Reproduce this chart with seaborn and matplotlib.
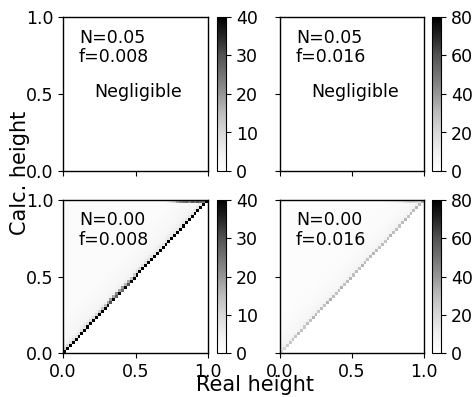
import numpy as np
import matplotlib
matplotlib.use("Agg")
import matplotlib.pyplot as plt
import seaborn as sns

N_BINS = 50

# Panel annotations (row-major: top-left, top-right, bottom-left, bottom-right)
panel_n = ["0.05", "0.05", "0.00", "0.00"]
panel_f = ["0.008", "0.016", "0.008", "0.016"]
panel_vmax = [40, 80, 40, 80]
colorbar_ticks = [[0, 10, 20, 30, 40], [0, 20, 40, 60, 80],
                  [0, 10, 20, 30, 40], [0, 20, 40, 60, 80]]
axis_ticks = [0.0, 0.5, 1.0]
axis_ticklabels = ["0.0", "0.5", "1.0"]

# Counts on the diagonal (real bin == calc bin), f=0.008
diag_left = [40, 45, 48, 50, 50, 48, 50, 52, 50, 48,
             50, 48, 45, 50, 42, 38, 30, 45, 28, 40,
             26, 42, 30, 38, 45, 40, 48, 50, 45, 50,
             50, 52, 48, 50, 50, 48, 50, 52, 50, 48,
             50, 48, 50, 52, 50, 48, 50, 50, 48, 60]
# Counts one bin above the diagonal, f=0.008
above_left = [10, 10, 9, 9, 8, 8, 8, 8, 8, 9,
              9, 10, 12, 14, 15, 18, 20, 18, 22, 18,
              20, 16, 18, 14, 12, 10, 9, 8, 8, 8,
              8, 7, 7, 7, 7, 7, 7, 7, 7, 7,
              7, 7, 7, 7, 7, 7, 7, 7, 7, 0]
# Background level by distance above the diagonal (2, 3, 4, ... bins)
band_left = [5, 3.5, 3, 2.6, 2.4, 2.2, 2.0, 2.0, 1.8, 1.6, 1.5]
# Topmost calc-height row, for real-height bins 36..48
top_row_left = [5, 8, 12, 18, 22, 24, 26, 22, 28, 24, 28, 26, 24]

# Same quantities for f=0.016
diag_right = [18, 22, 25, 26, 28, 27, 30, 28, 26, 30,
              28, 32, 30, 27, 30, 28, 32, 34, 30, 28,
              30, 33, 28, 30, 32, 29, 30, 28, 32, 30,
              28, 30, 32, 30, 28, 30, 27, 30, 32, 29,
              30, 28, 30, 32, 28, 30, 30, 32, 30, 34]
above_right = [12, 10, 9, 9, 8, 8, 8, 8, 8, 8,
               8, 8, 8, 8, 8, 8, 8, 8, 8, 8,
               8, 8, 8, 8, 8, 8, 8, 8, 8, 8,
               8, 8, 8, 8, 8, 8, 8, 8, 8, 8,
               8, 8, 8, 8, 8, 8, 8, 9, 10, 0]
band_right = [6, 5, 4.5, 4, 3.6, 3.2, 3.0, 2.8, 2.6, 2.4, 2.2]
top_row_right = [3, 4, 5, 6, 8, 10, 12, 16, 20, 22, 22, 20, 18]
TOP_ROW_START = 36


def build_counts(diag, above, band, top_row):
    counts = np.zeros((N_BINS, N_BINS))
    for c in range(N_BINS):
        for r in range(c + 2, N_BINS):
            counts[r, c] = band[min(r - c - 2, len(band) - 1)]
        if c + 1 < N_BINS:
            counts[c + 1, c] = above[c]
        counts[c, c] = diag[c]
    for i, v in enumerate(top_row):
        counts[N_BINS - 1, TOP_ROW_START + i] = v
    return counts


matrices = [np.zeros((N_BINS, N_BINS)), np.zeros((N_BINS, N_BINS)),
            build_counts(diag_left, above_left, band_left, top_row_left),
            build_counts(diag_right, above_right, band_right, top_row_right)]

FS = 12.5
W, H = 476, 397
fig = plt.figure(figsize=(W / 100, H / 100), dpi=100)


def px_rect(x0, y0, x1, y1):
    return [x0 / W, 1 - y1 / H, (x1 - x0) / W, (y1 - y0) / H]


axes_px = [(63, 17, 208, 171), (280, 17, 424, 171),
           (63, 200, 208, 353), (280, 200, 424, 353)]
cbar_px = [(217, 17, 226, 171), (432, 17, 441, 171),
           (217, 200, 226, 353), (432, 200, 441, 353)]

for k in range(4):
    ax = fig.add_axes(px_rect(*axes_px[k]))
    cax = fig.add_axes(px_rect(*cbar_px[k]))
    sns.heatmap(matrices[k], ax=ax, cbar_ax=cax, cmap="Greys",
                vmin=0, vmax=panel_vmax[k], xticklabels=False,
                yticklabels=False, rasterized=True)
    ax.set_xlim(0, N_BINS)
    ax.set_ylim(0, N_BINS)
    ticks = [t * N_BINS for t in axis_ticks]
    ax.set_xticks(ticks)
    ax.set_yticks(ticks)
    if k % 2 == 0:
        ax.set_yticklabels(axis_ticklabels, rotation=0, fontsize=FS)
    else:
        ax.set_yticklabels([])
    if k >= 2:
        ax.set_xticklabels(axis_ticklabels, rotation=0, fontsize=FS)
    else:
        ax.set_xticklabels([])
    ax.tick_params(direction="out", length=3.5, width=0.8, color="black")
    for sp in ax.spines.values():
        sp.set_visible(True)
        sp.set_linewidth(1.0)
        sp.set_color("black")

    cb = ax.collections[0].colorbar
    cb.outline.set_visible(True)
    cb.outline.set_linewidth(0.8)
    cb.outline.set_edgecolor("black")
    cb.set_ticks(colorbar_ticks[k])
    cb.ax.tick_params(labelsize=FS, length=3.5, width=0.8)

    ax.text(0.11, 0.925, f"N={panel_n[k]}\nf={panel_f[k]}",
            transform=ax.transAxes, ha="left", va="top", fontsize=FS,
            linespacing=1.1)
    if k < 2:
        ax.text(0.52, 0.513, "Negligible", transform=ax.transAxes,
                ha="center", va="center", fontsize=FS)

fig.text(0.042, 0.565, "Calc. height", rotation=90, ha="center",
         va="center", fontsize=15)
fig.text(0.536, 0.03, "Real height", ha="center", va="center", fontsize=15)

fig.savefig("out.png", dpi=100)
